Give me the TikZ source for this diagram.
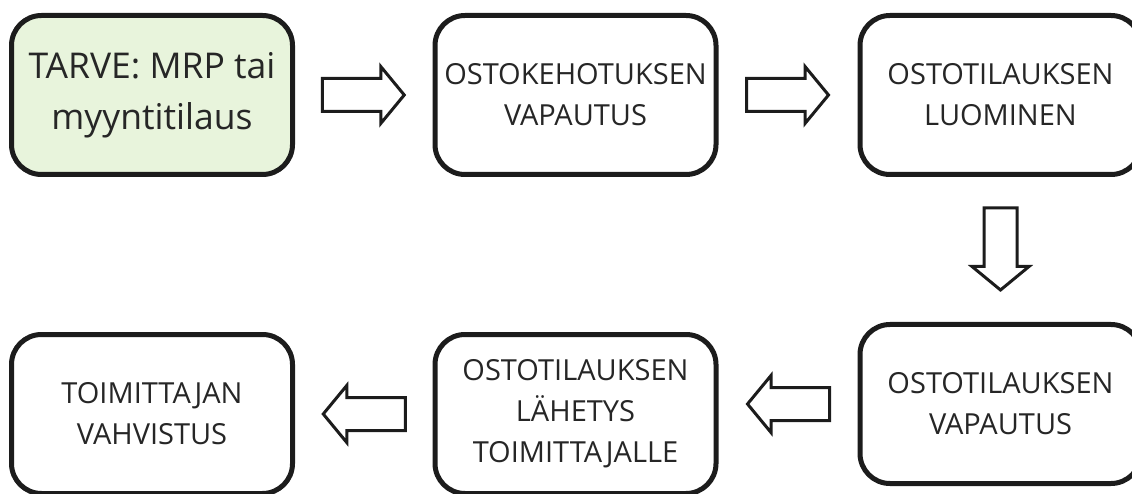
\documentclass[tikz,border=0pt]{standalone}
\usepackage{fontspec}
\setmainfont{Open Sans}
\usetikzlibrary{calc}

\definecolor{boxgreen}{HTML}{E8F4DC}
\definecolor{ink}{HTML}{1C1C1C}
\definecolor{txt}{HTML}{262626}

\tikzset{
  stepbox/.style={draw=ink, line width=5pt, rounded corners=30pt, fill=white,
    minimum width=281pt, minimum height=159pt, inner sep=0pt,
    align=center, text=txt, font=\fontsize{29}{41}\selectfont},
  arrowline/.style={draw=ink, line width=3pt, fill=white, line join=miter},
  blockarrow/.pic={
    \path[arrowline] (-41.5,-16.5) -- (17,-16.5) -- (17,-28.5) -- (40.5,0)
      -- (17,28.5) -- (17,16.5) -- (-41.5,16.5) -- cycle;
  }
}

\begin{document}
\begin{tikzpicture}[x=1pt, y=1pt]
  \useasboundingbox (0,0) rectangle (1132,493);
  \clip (0,0) rectangle (1132,493);

  % process steps, top row left to right, bottom row right to left
  \node[stepbox, fill=boxgreen, font=\fontsize{35.5}{51}\selectfont] (b1) at (152,398)
    {TARVE: MRP tai\\myyntitilaus};
  \node[stepbox] (b2) at (575.5,398) {OSTOKEHOTUKSEN\\VAPAUTUS};
  \node[stepbox] (b3) at (1000.5,398) {OSTOTILAUKSEN\\LUOMINEN};
  \node[stepbox] (b4) at (1000.5,89) {OSTOTILAUKSEN\\VAPAUTUS};
  \node[stepbox] (b5) at (575.5,79) {OSTOTILAUKSEN\\LÄHETYS\\TOIMITTAJALLE};
  \node[stepbox] (b6) at (152,79) {TOIMITTAJAN\\VAHVISTUS};

  % block arrows between consecutive steps
  \coordinate (a12) at ($(b1.east)!0.5!(b2.west)$);
  \coordinate (a23) at ($(b2.east)!0.5!(b3.west)$);
  \coordinate (a34) at ($(b3.south)!0.5!(b4.north)$);
  \coordinate (a45) at ($(b4.west)!0.5!(b5.east |- b4.west)$);
  \coordinate (a56) at ($(b5.west)!0.5!(b6.east)$);

  \pic at (a12) {blockarrow};
  \pic at (a23) {blockarrow};
  \pic[rotate=-90] at (a34) {blockarrow};
  \pic[rotate=180] at (a45) {blockarrow};
  \pic[rotate=180] at (a56) {blockarrow};
\end{tikzpicture}
\end{document}
